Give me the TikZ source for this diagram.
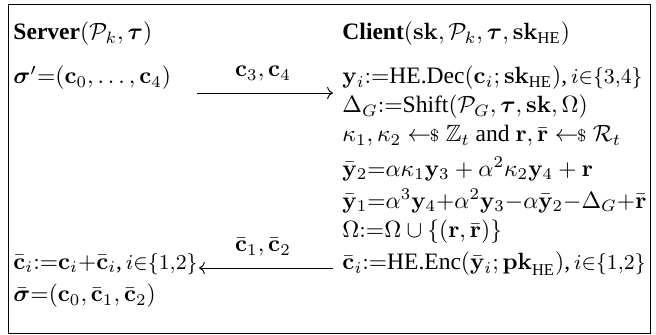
\documentclass[tikz,border=0pt]{standalone}
\usepackage[no-math]{fontspec}
\setmainfont{Liberation Serif}
\usepackage{amsmath,amssymb,bm}
\usetikzlibrary{arrows.meta,positioning}
\newcommand{\getsr}{\mathrel{\leftarrow\!\!{\scriptstyle\$}}}
\newcommand{\idx}[2]{\,{\fontsize{8.8}{10}\selectfont$i{\in}\{#1{,}#2\}$}}

\begin{document}
\begin{tikzpicture}[x=0.425pt, y=-0.425pt, every node/.style={inner sep=0pt, anchor=west}]
  \useasboundingbox (0,0) rectangle (656,335);
  \draw (8,4) rectangle (650,333);
  % server side
  \node (srv) at (13,34) {\textbf{Server}$(\mathcal{P}_k,\bm{\tau})$};
  \node (sigp) at (13,78) {$\bm{\sigma}'{=}(\mathbf{c}_0,\ldots,\mathbf{c}_4)$};
  \node (cbs) at (13,264) {$\bar{\mathbf{c}}_i{:=}\mathbf{c}_i{+}\bar{\mathbf{c}}_i$,\idx{1}{2}};
  \node (sigb) at (13,296) {$\bar{\bm{\sigma}}{=}(\mathbf{c}_0,\bar{\mathbf{c}}_1,\bar{\mathbf{c}}_2)$};
  % client side
  \node (cli) at (342,34) {\textbf{Client}$(\mathbf{sk},\mathcal{P}_k,\bm{\tau},\mathbf{sk}_{\text{HE}})$};
  \node (yi) at (342,78) {$\mathbf{y}_i{:=}\text{HE.Dec}(\mathbf{c}_i;\mathbf{sk}_{\text{HE}})$,\idx{3}{4}};
  \node (dg) at (342,107) {$\Delta_G{:=}\text{Shift}(\mathcal{P}_G,\bm{\tau},\mathbf{sk},\Omega)$};
  \node (kap) at (342,136) {$\kappa_1,\kappa_2\getsr\mathbb{Z}_t$ and $\mathbf{r},\bar{\mathbf{r}}\getsr\mathcal{R}_t$};
  \node (ytwo) at (342,169) {$\bar{\mathbf{y}}_2{=}\alpha\kappa_1\mathbf{y}_3+\alpha^2\kappa_2\mathbf{y}_4+\mathbf{r}$};
  \node (yone) at (342,201) {$\bar{\mathbf{y}}_1{=}\alpha^3\mathbf{y}_4{+}\alpha^2\mathbf{y}_3{-}\alpha\bar{\mathbf{y}}_2{-}\Delta_G{+}\bar{\mathbf{r}}$};
  \node (omg) at (342,232) {$\Omega{:=}\Omega\cup\{(\mathbf{r},\bar{\mathbf{r}})\}$};
  \node (cbc) at (342,264) {$\bar{\mathbf{c}}_i{:=}\text{HE.Enc}(\bar{\mathbf{y}}_i;\mathbf{pk}_{\text{HE}})$,\idx{1}{2}};
  % messages
  \coordinate (m1s) at (197,93);
  \coordinate (m1e) at (333,93);
  \coordinate (m2s) at (333,268);
  \coordinate (m2e) at (199,268);
  \node[anchor=center] (m1) at (263,74) {$\mathbf{c}_3,\mathbf{c}_4$};
  \node[anchor=center] (m2) at (263,247) {$\bar{\mathbf{c}}_1,\bar{\mathbf{c}}_2$};
  \draw[->] (m1s) -- (m1e);
  \draw[->] (m2s) -- (m2e);
\end{tikzpicture}
\end{document}
